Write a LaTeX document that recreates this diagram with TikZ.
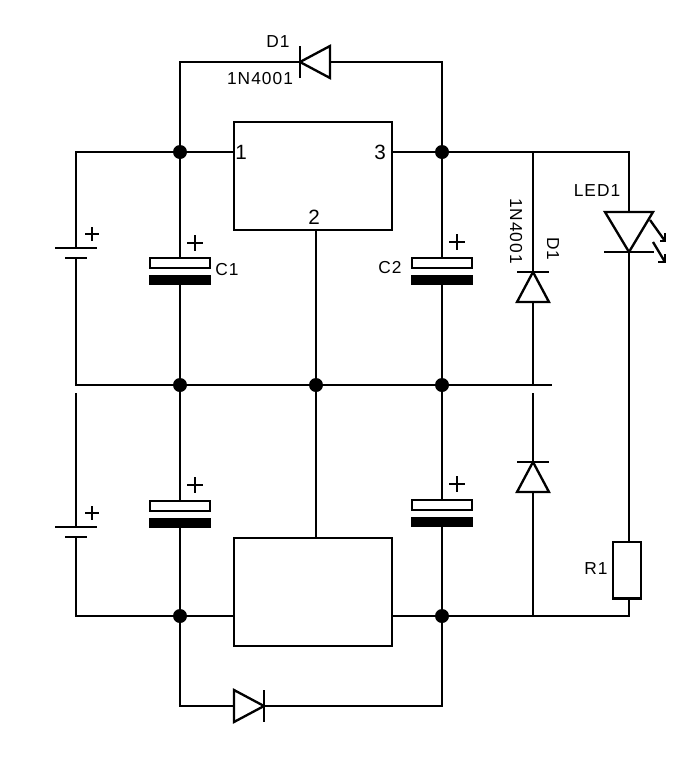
\documentclass[tikz,border=0pt]{standalone}
\usepackage{fontspec}
\setmainfont[LetterSpace=6]{Liberation Sans}
\usetikzlibrary{positioning}

\tikzset{
	diode/.pic={
		\draw [wire, line join=miter] (-15,-16) -- (-15,16) -- (15,0) -- cycle;
		\draw [wire] (15,-16) -- (15,16);
		\coordinate (-a) at (-15,0);
		\coordinate (-k) at (15,0);
	},
	led/.pic={
		\draw [wire, line join=miter] (-24,-20) -- (24,-20) -- (0,20) -- cycle;
		\draw [wire] (-25,20) -- (25,20);
		\draw [wire] (21,-12) -- (36,9);
		\draw [wire] (36,1) -- (36,9) -- (31,9);
		\draw [wire] (24,10) -- (36,30);
		\draw [wire] (36,22) -- (36,30) -- (29,30);
		\coordinate (-a) at (0,-20);
		\coordinate (-k) at (0,20);
	},
	ecap/.pic={
		\draw [wire, fill=white] (-30,-14) rectangle (30,-4);
		\fill (-31,3) rectangle (31,13);
		\coordinate (-p) at (0,-14);
		\coordinate (-n) at (0,13);
	},
	cell/.pic={
		\draw [wire] (-21,-5) -- (21,-5);
		\draw [wire] (-11,5) -- (11,5);
		\coordinate (-p) at (0,-5);
		\coordinate (-n) at (0,5);
	},
	plus/.pic={
		\draw [thinwire] (-#1,0) -- (#1,0);
		\draw [thinwire] (0,-#1) -- (0,#1);
	}
}

\begin{document}
\begin{tikzpicture}[x=0.75pt, y=-0.75pt]
	\tikzstyle{wire}=[line width=1.75pt]
	\tikzstyle{thinwire}=[line width=1.5pt]
	\tikzstyle{dot}=[circle, fill=black, inner sep=0pt, minimum size=10.5pt]
	\tikzstyle{chip}=[rectangle, draw=black, line width=1.75pt, inner sep=0pt, minimum width=118.5pt, minimum height=81pt]
	\tikzstyle{res}=[rectangle, draw=black, line width=1.75pt, inner sep=0pt, minimum width=21pt, minimum height=42.5pt]
	\tikzstyle{lbl}=[inner sep=0pt, font=\fontsize{13}{13}\selectfont]
	\tikzstyle{pin}=[inner sep=0pt, font=\fontsize{15.5}{15.5}\selectfont]

	\useasboundingbox (0,0) rectangle (697,761);

	\node at (313,176) [chip] (reg1) {};
	\node at (313,592) [chip] (reg2) {};
	\node at (627,570) [res] (r1) {};

	% junctions
	\node at (180,152) [dot] (j1) {};
	\node at (442,152) [dot] (j2) {};
	\node at (180,385) [dot] (j3) {};
	\node at (316,385) [dot] (j4) {};
	\node at (442,385) [dot] (j5) {};
	\node at (180,616) [dot] (j6) {};
	\node at (442,616) [dot] (j7) {};

	% corners and free ends
	\coordinate (tl) at (180,62);
	\coordinate (tr) at (442,62);
	\coordinate (bl) at (180,706);
	\coordinate (br) at (442,706);
	\coordinate (c1) at (76,152);
	\coordinate (c2) at (76,385);
	\coordinate (c3) at (76,393);
	\coordinate (c4) at (76,616);
	\coordinate (c5) at (629,152);
	\coordinate (c6) at (629,616);
	\coordinate (c7) at (533,152);
	\coordinate (c8) at (533,616);
	\coordinate (m1) at (533,385);
	\coordinate (m2) at (533,393);
	\coordinate (m3) at (552,385);
	\coordinate (p1) at (234,152);
	\coordinate (p3) at (392,152);
	\coordinate (p2) at (316,230);
	\coordinate (p4) at (316,538);
	\coordinate (p5) at (234,616);
	\coordinate (p6) at (392,616);
	\coordinate (r1t) at (629,541);
	\coordinate (r1b) at (629,598);

	% parts
	\pic (dt) at (315,62) [rotate=180] {diode};
	\pic (db) at (249,706) {diode};
	\pic (du) at (533,287) [rotate=90] {diode};
	\pic (dl) at (533,477) [rotate=90] {diode};
	\pic (led) at (629,232) {led};
	\pic (cap1) at (180,272) {ecap};
	\pic (cap2) at (442,272) {ecap};
	\pic (cap3) at (180,515) {ecap};
	\pic (cap4) at (442,514) {ecap};
	\pic (bat1) at (76,253) {cell};
	\pic (bat2) at (76,532) {cell};
	\pic at (92,234) {plus=7};
	\pic at (92,513) {plus=7};
	\pic at (195,243) {plus=8};
	\pic at (195,485) {plus=8};
	\pic at (457,242) {plus=8};
	\pic at (457,484) {plus=8};

	% wires
	\draw [wire] (j1) -- (tl) -- (dt-k);
	\draw [wire] (dt-a) -- (tr) -- (j2);
	\draw [wire] (bat1-p) -- (c1) -- (j1) -- (p1);
	\draw [wire] (p3) -- (j2) -- (c7) -- (c5) -- (led-a);
	\draw [wire] (c7) -- (du-k);
	\draw [wire] (du-a) -- (m1);
	\draw [wire] (bat1-n) -- (c2) -- (j3) -- (j4) -- (j5) -- (m3);
	\draw [wire] (j1) -- (cap1-p);
	\draw [wire] (cap1-n) -- (j3);
	\draw [wire] (j2) -- (cap2-p);
	\draw [wire] (cap2-n) -- (j5);
	\draw [wire] (p2) -- (j4);
	\draw [wire] (j4) -- (p4);
	\draw [wire] (j3) -- (cap3-p);
	\draw [wire] (cap3-n) -- (j6);
	\draw [wire] (j5) -- (cap4-p);
	\draw [wire] (cap4-n) -- (j7);
	\draw [wire] (c3) -- (bat2-p);
	\draw [wire] (bat2-n) -- (c4) -- (j6) -- (p5);
	\draw [wire] (p6) -- (j7) -- (c8) -- (c6) -- (r1b);
	\draw [wire] (m2) -- (dl-k);
	\draw [wire] (dl-a) -- (c8);
	\draw [wire] (led-k) -- (r1t);
	\draw [wire] (j6) -- (bl) -- (db-a);
	\draw [wire] (db-k) -- (br) -- (j7);

	% labels
	\node at (278,42) [lbl] (ld1) {D1};
	\node at (260,79) [lbl] (ln1) {1N4001};
	\node at (241,152) [pin] (l1) {1};
	\node at (380,152) [pin] (l3) {3};
	\node at (314,217) [pin] (l2) {2};
	\node at (227,270) [lbl] (lc1) {C1};
	\node at (390,268) [lbl] (lc2) {C2};
	\node at (597,191) [lbl] (lled) {LED1};
	\node at (516,231) [lbl, rotate=-90] (ln2) {1N4001};
	\node at (553,249) [lbl, rotate=-90] (ld2) {D1};
	\node at (596,569) [lbl] (lr1) {R1};
\end{tikzpicture}
\end{document}
